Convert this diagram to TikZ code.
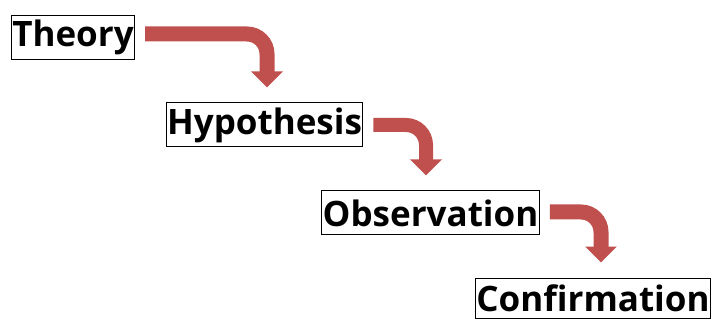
\documentclass[tikz,border=0pt]{standalone}
\usepackage{fontspec}
\setmainfont{Open Sans}
\definecolor{flowred}{RGB}{192,80,77}
\usepackage{tikz}
\usetikzlibrary{arrows.meta, positioning}

\begin{document}
\begin{tikzpicture}[x=1pt, y=-1pt,
	stage/.style={draw=black, line width=1pt, inner xsep=1pt, inner ysep=0pt, minimum height=44pt, font=\fontsize{35}{40}\selectfont\bfseries},
	flow/.style={draw=flowred, line width=15pt, rounded corners=20pt, -{Triangle[length=16pt, width=31pt]}, shorten <=10pt, shorten >=15pt}]

\useasboundingbox (0,0) rectangle (714,320); % page size

\node[stage] (theory)       at (73, 37.5) {Theory};
\node[stage] (hypothesis)   at (264.5, 125) {Hypothesis};
\node[stage] (observation)  at (430.5, 213) {Observation};
\node[stage, minimum height=40pt] (confirmation) at (593, 298) {Confirmation};

\draw[flow] ([yshift=3.5pt]theory.east) -| ([xshift=2.5pt]hypothesis.north);
\draw[flow, line width=14pt] ([yshift=0pt]hypothesis.east) -| ([xshift=-4.5pt]observation.north);
\draw[flow] ([yshift=1pt]observation.east) -| ([xshift=8pt]confirmation.north);

\end{tikzpicture}
\end{document}
